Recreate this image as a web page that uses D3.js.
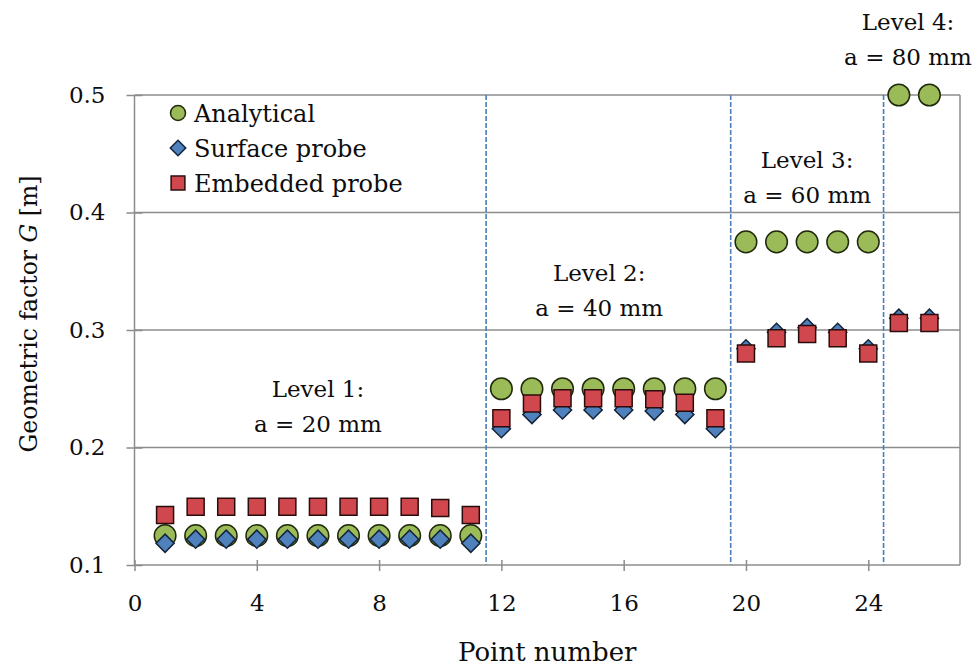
<!DOCTYPE html>
<html>
<head>
<meta charset="utf-8">
<script src="https://cdn.jsdelivr.net/npm/d3@7/dist/d3.min.js"></script>
<style>
    body { margin: 0; background: #fff; }
    svg text { font-family: "DejaVu Serif", serif; fill: #0d0d0d; }
</style>
</head>
<body>
<svg id="chart" width="979" height="666"></svg>
<script>
// Point numbers 1..26
const pointNumbers = [1, 2, 3, 4, 5, 6, 7, 8, 9, 10, 11, 12, 13, 14, 15, 16, 17, 18, 19, 20, 21, 22, 23, 24, 25, 26];

const analytical = [0.125, 0.125, 0.125, 0.125, 0.125, 0.125, 0.125, 0.125, 0.125, 0.125, 0.125,
    0.25, 0.25, 0.25, 0.25, 0.25, 0.25, 0.25, 0.25,
    0.375, 0.375, 0.375, 0.375, 0.375,
    0.5, 0.5];

const surfaceProbe = [0.1185, 0.122, 0.122, 0.122, 0.122, 0.122, 0.122, 0.122, 0.122, 0.122, 0.1185,
    0.216, 0.228, 0.232, 0.232, 0.232, 0.231, 0.228, 0.216,
    0.284, 0.298, 0.302, 0.298, 0.284,
    0.310, 0.310];

const embeddedProbe = [0.1425, 0.1495, 0.1495, 0.1495, 0.1495, 0.1495, 0.1495, 0.1495, 0.1495, 0.1485, 0.1425,
    0.225, 0.2375, 0.242, 0.242, 0.242, 0.241, 0.238, 0.225,
    0.280, 0.293, 0.2965, 0.293, 0.280,
    0.306, 0.306];

const seriesNames = ["Analytical", "Surface probe", "Embedded probe"];
const xTicks = [0, 4, 8, 12, 16, 20, 24];
const yTicks = [0.1, 0.2, 0.3, 0.4, 0.5];
const levelBreaks = [11.5, 19.5, 24.5];
const levelTitles = ["Level 1:", "Level 2:", "Level 3:", "Level 4:"];
const levelSizes = ["a = 20 mm", "a = 40 mm", "a = 60 mm", "a = 80 mm"];

// label anchors (data coords of the second line)
const levelAnchors = [[6, 0.2134], [15.2, 0.312], [22, 0.4078], [25.3, 0.5255]];

const colors = {
    circle: "#9bbb59",
    diamond: "#4f81bd",
    square: "#d0474d",
    grid: "#8c8c8c",
    level: "#4a7ebb"
};

const svg = d3.select("#chart");
svg.append("rect").attr("width", 979).attr("height", 666).attr("fill", "#fff");

const x = d3.scaleLinear().domain([0, 27]).range([134.5, 960]);
const y = d3.scaleLinear().domain([0.1, 0.5]).range([565, 95]);

// Gridlines
svg.append("g")
    .selectAll("line")
    .data(yTicks.slice(1))
    .join("line")
    .attr("x1", x(0)).attr("x2", x(27))
    .attr("y1", d => y(d)).attr("y2", d => y(d))
    .attr("stroke", colors.grid)
    .attr("stroke-width", 1.5);

// right border
svg.append("line")
    .attr("x1", x(27)).attr("x2", x(27))
    .attr("y1", y(0.5)).attr("y2", y(0.1))
    .attr("stroke", colors.grid)
    .attr("stroke-width", 1.5);

// Level separators
svg.append("g")
    .selectAll("line")
    .data(levelBreaks)
    .join("line")
    .attr("x1", d => x(d)).attr("x2", d => x(d))
    .attr("y1", y(0.5)).attr("y2", y(0.1))
    .attr("stroke", colors.level)
    .attr("stroke-width", 1.6)
    .attr("stroke-dasharray", "5,2");

// Axes
const yAxis = svg.append("g")
    .attr("transform", `translate(${x(0)},0)`)
    .call(d3.axisLeft(y).tickValues(yTicks).tickFormat(d3.format(".1f")).tickSize(8).tickPadding(21));

const xAxis = svg.append("g")
    .attr("transform", `translate(0,${y(0.1)})`)
    .call(d3.axisBottom(x).tickValues(xTicks).tickSize(6).tickPadding(24));

[yAxis, xAxis].forEach(ax => {
    ax.select(".domain").attr("stroke", colors.grid).attr("stroke-width", 1.5);
    ax.selectAll(".tick line").attr("stroke", colors.grid).attr("stroke-width", 1.5);
    ax.selectAll("text").attr("font-size", 23).attr("font-family", "DejaVu Serif").attr("fill", "#0d0d0d");
});
yAxis.select(".domain").attr("d", `M0,${y(0.5)}V${y(0.1)}`);
xAxis.select(".domain").attr("d", `M${x(0)},0H${x(27)}`);
// cross-style tick marks
yAxis.selectAll(".tick line").attr("x1", 8);
xAxis.selectAll(".tick line").attr("y1", -5);

// Series
const rows = pointNumbers.map((p, i) => ({
    p: p, a: analytical[i], s: surfaceProbe[i], e: embeddedProbe[i]
}));

const diamond = d3.symbol().type(d3.symbolSquare).size(165);
const square = d3.symbol().type(d3.symbolSquare).size(289);

svg.append("g")
    .selectAll("circle")
    .data(rows)
    .join("circle")
    .attr("cx", d => x(d.p))
    .attr("cy", d => y(d.a))
    .attr("r", 10.8)
    .attr("fill", colors.circle)
    .attr("stroke", "#1f2a0c")
    .attr("stroke-width", 1.5);

svg.append("g")
    .selectAll("path")
    .data(rows)
    .join("path")
    .attr("d", diamond)
    .attr("transform", d => `translate(${x(d.p)},${y(d.s)}) rotate(45)`)
    .attr("fill", colors.diamond)
    .attr("stroke", "#14233a")
    .attr("stroke-width", 1.5);

svg.append("g")
    .selectAll("path")
    .data(rows)
    .join("path")
    .attr("d", square)
    .attr("transform", d => `translate(${x(d.p)},${y(d.e)})`)
    .attr("fill", colors.square)
    .attr("stroke", "#2a0c0c")
    .attr("stroke-width", 1.5);

// Legend
const legend = svg.append("g").attr("transform", "translate(178,113)");
legend.append("circle")
    .attr("cx", 0).attr("cy", 0).attr("r", 7.5)
    .attr("fill", colors.circle).attr("stroke", "#1f2a0c").attr("stroke-width", 1.5);
legend.append("path")
    .attr("d", d3.symbol().type(d3.symbolSquare).size(120))
    .attr("transform", "translate(0,35) rotate(45)")
    .attr("fill", colors.diamond).attr("stroke", "#14233a").attr("stroke-width", 1.5);
legend.append("path")
    .attr("d", d3.symbol().type(d3.symbolSquare).size(190))
    .attr("transform", "translate(0,70)")
    .attr("fill", colors.square).attr("stroke", "#2a0c0c").attr("stroke-width", 1.5);
legend.selectAll("text")
    .data(seriesNames)
    .join("text")
    .attr("x", 16)
    .attr("y", (d, i) => i * 35 + 9)
    .attr("font-size", 24)
    .text(d => d);

// Level annotations
const ann = svg.append("g").attr("text-anchor", "middle").attr("font-size", 23);
levelAnchors.forEach((a, i) => {
    ann.append("text").attr("x", x(a[0])).attr("y", y(a[1]) - 35).text(levelTitles[i]);
    ann.append("text").attr("x", x(a[0])).attr("y", y(a[1])).text(levelSizes[i]);
});

// Axis titles
svg.append("text")
    .attr("x", (x(0) + x(27)) / 2)
    .attr("y", 661)
    .attr("text-anchor", "middle")
    .attr("font-size", 26)
    .text("Point number");

const yTitle = svg.append("text")
    .attr("transform", "translate(37,314) rotate(-90)")
    .attr("text-anchor", "middle")
    .attr("font-size", 23.5);
yTitle.append("tspan").text("Geometric factor ");
yTitle.append("tspan").attr("font-style", "italic").text("G");
yTitle.append("tspan").text(" [m]");
</script>
</body>
</html>
